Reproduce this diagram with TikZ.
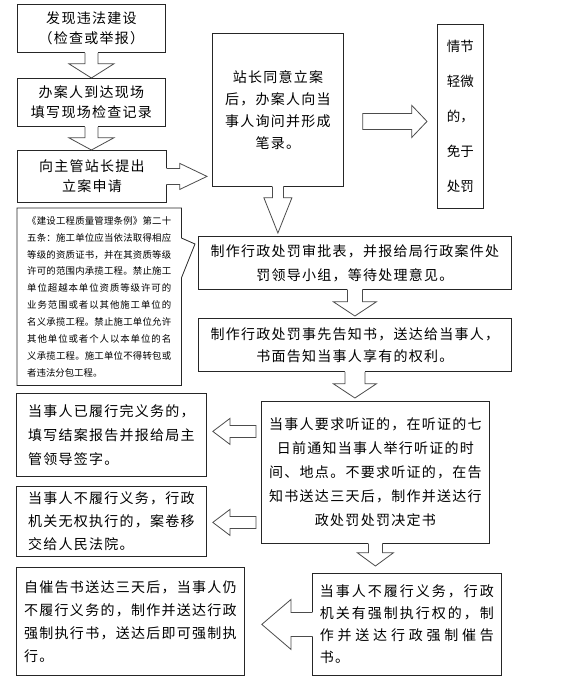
\documentclass[tikz,border=0pt]{standalone}
\usepackage{fontspec}
\newfontfamily\cjk[LetterSpace=9]{Noto Sans CJK SC}
\newfontfamily\cjkn{Noto Sans CJK SC}
\usetikzlibrary{calc}
\def\sprx#1#2{#1\ifx\relax#2\else\hfil\expandafter\sprx\expandafter#2\fi}
\newcommand\spreadline[2]{\hbox to #1{\sprx#2\relax}}
% attached block arrow: #1 start, #2 tip, #3 stem half width, #4 head half width, #5 stem length
\newcommand\attarrow[5]{%
 \coordinate (ba-s) at #1; \coordinate (ba-t) at #2;
 \coordinate (ba-m) at ($(ba-s)!#5!(ba-t)$);
 \coordinate (ba-b) at ($(ba-s)!-1.5pt!(ba-t)$);
 \coordinate (ba-s1) at ($(ba-s)!#3!90:(ba-t)$);
 \coordinate (ba-s2) at ($(ba-s)!#3!-90:(ba-t)$);
 \coordinate (ba-b1) at ($(ba-b)!#3!90:(ba-t)$);
 \coordinate (ba-b2) at ($(ba-b)!#3!-90:(ba-t)$);
 \coordinate (ba-m1) at ($(ba-m)!#3!90:(ba-t)$);
 \coordinate (ba-m2) at ($(ba-m)!#3!-90:(ba-t)$);
 \coordinate (ba-h1) at ($(ba-m)!#4!90:(ba-t)$);
 \coordinate (ba-h2) at ($(ba-m)!#4!-90:(ba-t)$);
 \fill[white] (ba-b1) -- (ba-m1) -- (ba-h1) -- (ba-t) -- (ba-h2) -- (ba-m2) -- (ba-b2) -- cycle;
 \draw[arrline] (ba-s1) -- (ba-m1) -- (ba-h1) -- (ba-t) -- (ba-h2) -- (ba-m2) -- (ba-s2);
}
% free block arrow
\newcommand\freearrow[5]{%
 \coordinate (ba-s) at #1; \coordinate (ba-t) at #2;
 \coordinate (ba-m) at ($(ba-s)!#5!(ba-t)$);
 \coordinate (ba-s1) at ($(ba-s)!#3!90:(ba-t)$);
 \coordinate (ba-s2) at ($(ba-s)!#3!-90:(ba-t)$);
 \coordinate (ba-m1) at ($(ba-m)!#3!90:(ba-t)$);
 \coordinate (ba-m2) at ($(ba-m)!#3!-90:(ba-t)$);
 \coordinate (ba-h1) at ($(ba-m)!#4!90:(ba-t)$);
 \coordinate (ba-h2) at ($(ba-m)!#4!-90:(ba-t)$);
 \draw[arrline, fill=white] (ba-s1) -- (ba-m1) -- (ba-h1) -- (ba-t) -- (ba-h2) -- (ba-m2) -- (ba-s2) -- cycle;
}
\tikzset{
 edgeline/.style={draw=black!85, line width=0.8pt},
 box/.style={edgeline, inner sep=0pt, anchor=north west, align=center, font=\cjk\fontsize{14}{22}\selectfont},
 lbox/.style={box, align=left},
 arrline/.style={draw=black!70, line width=0.8pt},
 ls/.style={font=\cjk\fontsize{14}{#1}\selectfont},
}
\begin{document}
\begin{tikzpicture}[x=1pt,y=-1pt]
\useasboundingbox (0,0) rectangle (575,678);
\fill[white] (0,0) rectangle (575,678);

\node[box, ls=20, minimum width=148pt, minimum height=48pt] (b1) at (17,4) {发现违法建设\\（检查或举报）};
\node[box, ls=20, minimum width=148pt, minimum height=48pt] (b2) at (17,78) {办案人到达现场\\填写现场检查记录};
\node[box, ls=20, minimum width=149pt, minimum height=52pt] (b3) at (17,150) {向主管站长提出\\立案申请};
\node[box, ls=22, minimum width=131pt, minimum height=153pt] (zz) at (212,33) {站长同意立案\\后，办案人向当\\事人询问并形成\\笔录。};
\node[box, font=\cjkn\fontsize{13.5}{35}\selectfont, minimum width=46pt, minimum height=184pt] (qj) at (437,24) {情节\\轻微\\的，\\免于\\处罚};
\node[box, ls=24, minimum width=313pt, minimum height=53pt] (apr) at (198,236) {制作行政处罚审批表，并报给局行政案件处\\罚领导小组，等待处理意见。};
\node[box, ls=22, minimum width=313pt, minimum height=53pt] (ntc) at (198,318) {制作行政处罚事先告知书，送达给当事人，\\书面告知当事人享有的权利。};
\node[box, ls=24, minimum width=228pt, minimum height=142pt] (hr) at (261,401) {当事人要求听证的，在听证的七\\日前通知当事人举行听证的时\\间、地点。不要求听证的，在告\\知书送达三天后，制作并送达行\\政处罚处罚决定书};
\node[lbox, ls=24, minimum width=190pt, minimum height=83pt] (done) at (16,393) {当事人已履行完义务的，\\填写结案报告并报给局主\\管领导签字。};
\node[lbox, ls=23, minimum width=190pt, minimum height=70pt] (court) at (16,486) {当事人不履行义务，行政\\机关无权执行的，案卷移\\交给人民法院。};
\node[lbox, ls=23, minimum width=228pt, minimum height=108pt] (exe) at (16,567) {自催告书送达三天后，当事人仍\\不履行义务的，制作并送达行政\\强制执行书，送达后即可强制执\\行。};
\node[lbox, ls=22, minimum width=189pt, minimum height=102pt] (urge) at (312,573) {\spreadline{174pt}{当事人不履行义务，行政}\\\spreadline{174pt}{机关有强制执行权的，制}\\\spreadline{174pt}{作并送达行政强制催告}\\书。};

\node[anchor=north west, inner sep=0pt, align=left, font=\cjkn\fontsize{9.4}{16.9}\selectfont, minimum width=164pt, minimum height=177pt] (law) at (17,208) {%
\spreadline{144pt}{《建设工程质量管理条例》第二十}\\
\spreadline{144pt}{五条：施工单位应当依法取得相应}\\
\spreadline{144pt}{等级的资质证书，并在其资质等级}\\
\spreadline{144pt}{许可的范围内承揽工程。禁止施工}\\
\spreadline{144pt}{单位超越本单位资质等级许可的}\\
\spreadline{144pt}{业务范围或者以其他施工单位的}\\
\spreadline{144pt}{名义承揽工程。禁止施工单位允许}\\
\spreadline{144pt}{其他单位或者个人以本单位的名}\\
\spreadline{144pt}{义承揽工程。施工单位不得转包或}\\
者违法分包工程。};
\draw[edgeline] (law.north west) -- (law.north east) -- ($(law.north east)+(0,30)$) -- ($(apr.north west)+(-3,8)$) -- ($(law.north east)+(0,70)$) -- (law.south east) -- (law.south west) -- cycle;

% attached arrows
\attarrow{(b1.south)}{(b1.south |- b2.north)}{6.5pt}{22.5pt}{11pt}
\attarrow{(b2.south)}{(b2.south |- b3.north)}{6.5pt}{22.5pt}{11pt}
\attarrow{(b3.east)}{($(b3.east -| zz.west)+(-5,0)$)}{8pt}{13pt}{13pt}
\attarrow{(zz.south)}{($(zz.south |- apr.north)+(0,-3)$)}{5.5pt}{14pt}{11pt}
\attarrow{(apr.south)}{($(apr.south |- ntc.north)+(0,-2)$)}{7.5pt}{21.5pt}{12pt}
\attarrow{(ntc.south)}{($(ntc.south |- hr.north)+(0,-3)$)}{10pt}{21.5pt}{12pt}
\attarrow{(hr.south)}{($(hr.south |- urge.north)+(0,-7)$)}{7pt}{18pt}{9pt}
\attarrow{(urge.west)}{($(urge.west -| exe.east)+(17,0)$)}{12pt}{25pt}{21pt}

% free arrows
\coordinate (f1s) at ($(zz.east)+(19,11.5)$);
\freearrow{(f1s)}{($(f1s -| qj.west)+(-10,0)$)}{8pt}{16pt}{49pt}
\coordinate (f2s) at ($(hr.west)+(-5,-41)$);
\freearrow{(f2s)}{($(f2s -| done.east)+(6,0)$)}{6pt}{13pt}{26pt}
\coordinate (f3s) at ($(hr.west)+(-5,50)$);
\freearrow{(f3s)}{($(f3s -| court.east)+(6,0)$)}{6pt}{13pt}{26pt}
\end{tikzpicture}
\end{document}
